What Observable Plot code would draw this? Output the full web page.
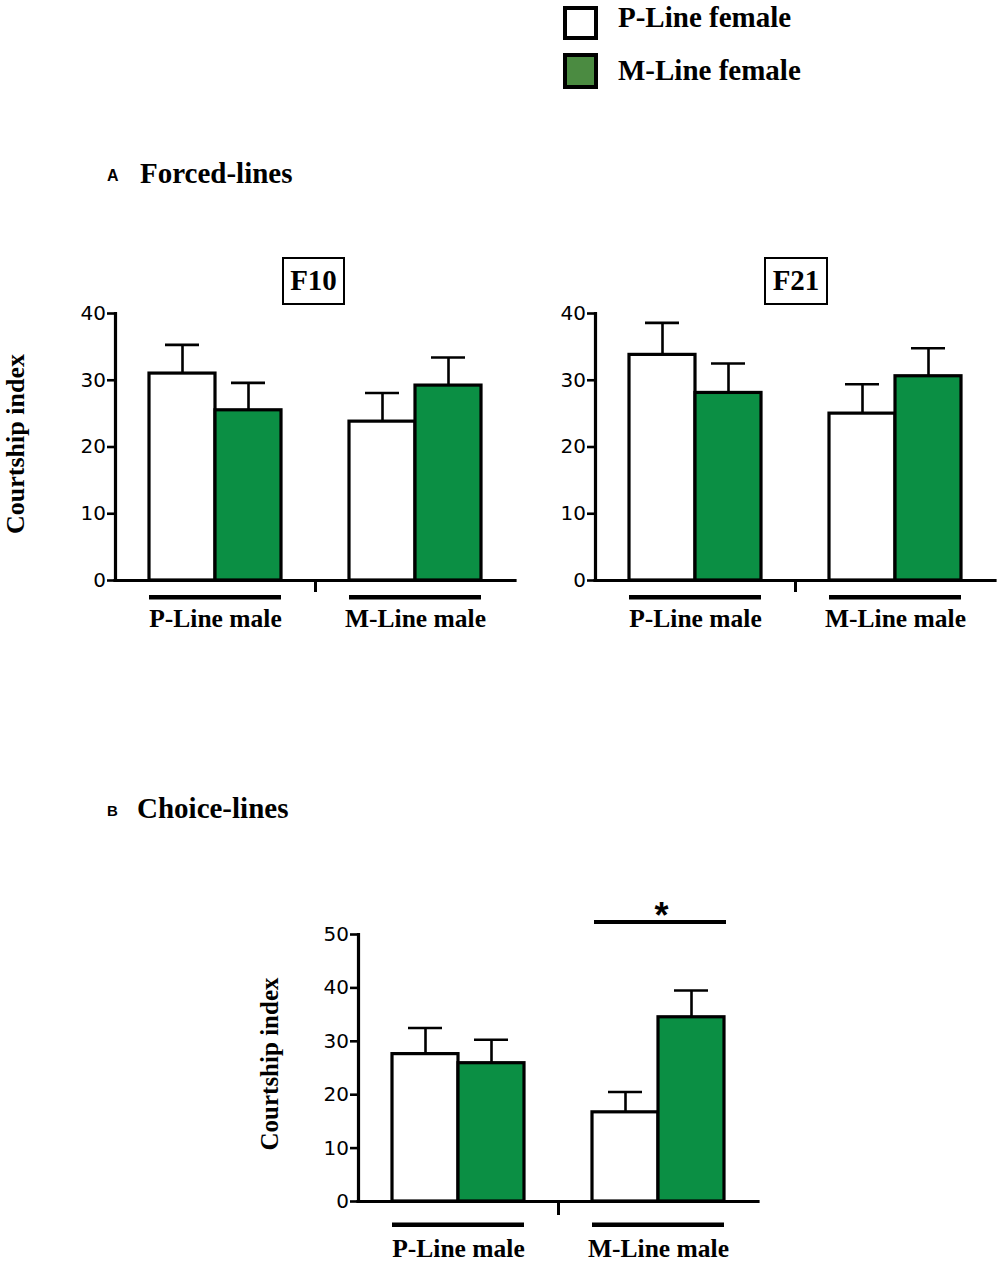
<!DOCTYPE html>
<html>
<head>
<meta charset="utf-8">
<script src="https://cdn.jsdelivr.net/npm/d3@7"></script>
<script src="https://cdn.jsdelivr.net/npm/@observablehq/plot@0.6"></script>
<style>
  body { margin: 0; background: #fff; }
  #root { position: relative; width: 1000px; height: 1262px; overflow: hidden; color: #000; background: #fff; }
  .abs { position: absolute; white-space: nowrap; line-height: 1; }
  .serif { font-family: "Liberation Serif", "Times New Roman", serif; font-weight: bold; }
  .sans { font-family: "Liberation Sans", Arial, sans-serif; font-weight: bold; }
  .plotwrap { position: absolute; }
  .plotwrap svg { overflow: visible; }
</style>
</head>
<body>
<div id="root"></div>
<script>
// ---------- data ----------
const maleLines = ["P-Line male", "M-Line male"];
const femaleLines = ["P-Line female", "M-Line female"];
const femaleColors = ["#ffffff", "#0b8f44"];
const legendColors = ["#ffffff", "#4b8b41"];
// order: P male x P female, P male x M female, M male x P female, M male x M female
const f10Mean = [31.0, 25.5, 23.8, 29.2];
const f10Sem  = [4.3, 4.1, 4.3, 4.2];
const f21Mean = [33.8, 28.1, 25.0, 30.6];
const f21Sem  = [4.8, 4.4, 4.4, 4.2];
const choiceMean = [27.6, 25.9, 16.7, 34.5];
const choiceSem  = [4.9, 4.4, 3.8, 5.0];
const ticksA = [0, 10, 20, 30, 40];
const ticksB = [0, 10, 20, 30, 40, 50];
const sigGroups = ["M-Line male"];
const sigLabel = "*";
const panelTitles = ["F10", "F21"];
const sectionTitles = ["Forced-lines", "Choice-lines"];
const sectionLetters = ["A", "B"];
const yLabel = "Courtship index";

// ---------- helpers ----------
const root = document.getElementById("root");
const ASC = {serif: 0.8375, sans: 0.8465};
function addText(txt, cls, x, baseline, size, center) {
  const d = document.createElement("div");
  d.className = "abs " + cls;
  d.textContent = txt;
  d.style.fontSize = size + "px";
  d.style.top = (baseline - ASC[cls] * size) + "px";
  d.style.left = x + "px";
  if (center) d.style.transform = "translateX(-50%)";
  root.appendChild(d);
  return d;
}
function addBox(x, y, w, h, border, fill) {
  const d = document.createElement("div");
  d.className = "abs";
  Object.assign(d.style, {left: x + "px", top: y + "px", width: w + "px", height: h + "px",
    boxSizing: "border-box", border: border + "px solid #000", background: fill});
  root.appendChild(d);
}
function addRotated(txt, cx, cy, size) {
  const d = document.createElement("div");
  d.className = "abs serif";
  d.textContent = txt;
  d.style.fontSize = size + "px";
  d.style.left = cx + "px";
  d.style.top = cy + "px";
  d.style.transform = "translate(-50%, -50%) rotate(-90deg)";
  root.appendChild(d);
}

function makeRows(mean, sem) {
  const rows = [];
  maleLines.forEach((m, i) => femaleLines.forEach((f, j) => {
    const k = i * femaleLines.length + j;
    rows.push({male: m, female: f, mean: mean[k], upper: mean[k] + sem[k]});
  }));
  return rows;
}

function panel({mean, sem, ticks, height, marginTop, marginBottom, underlineDy, labelPadding, centerTick, sig}) {
  const rows = makeRows(mean, sem);
  const yMax = d3.max(ticks);
  const innerH = height - marginTop - marginBottom;
  const marks = [
    Plot.axisY({ticks, tickSize: 8, tickPadding: 1.5, strokeWidth: 2.6, fontSize: 20,
      fontFamily: "DejaVu Sans, Liberation Sans, sans-serif", label: null, tickFormat: d => String(d)}),
    Plot.axisFx({anchor: "bottom", tickSize: 0, tickPadding: labelPadding, fontSize: 25.5, fontWeight: "bold",
      fontFamily: "Liberation Serif, Times New Roman, serif", label: null}),
    Plot.ruleX(rows, {fx: "male", x: "female", y1: "mean", y2: "upper", strokeWidth: 2.6}),
    Plot.tickY(rows, {fx: "male", x: "female", y: "upper", insetLeft: 16, insetRight: 16, strokeWidth: 2.6}),
    Plot.barY(rows, {fx: "male", x: "female", y: "mean", fill: "female", stroke: "#000", strokeWidth: 3.2}),
    Plot.ruleY([0], {strokeWidth: 3.2, strokeLinecap: "square"}),
    Plot.frame({anchor: "left", facetAnchor: "left", strokeWidth: 3.2, strokeLinecap: "square"}),
    Plot.frame({anchor: "left", facetAnchor: "right", insetTop: innerH, insetBottom: -centerTick, strokeWidth: 3}),
    Plot.tickY(rows, {fx: "male", x: "female", y: 0, dy: underlineDy, strokeWidth: 4.5})
  ];
  if (sig) {
    const sigRows = rows.filter(d => sig.includes(d.male));
    marks.push(Plot.tickY(sigRows, {fx: "male", x: "female", y: () => yMax, dy: -12.5, dx: 2, strokeWidth: 4}));
    marks.push(Plot.text(sig.map(m => ({male: m, label: sigLabel})), {fx: "male", y: () => yMax, text: "label",
      dy: -18, dx: 3, fontSize: 36, fontWeight: "bold", fontFamily: "Liberation Sans, Arial, sans-serif"}));
  }
  return Plot.plot({
    width: 520, height, marginLeft: 115, marginRight: 5, marginTop, marginBottom,
    style: {background: "transparent", overflow: "visible", color: "#000"},
    fx: {domain: maleLines, padding: 0},
    x: {domain: femaleLines, paddingInner: 0, paddingOuter: 0.5, axis: null},
    y: {domain: [0, yMax]},
    color: {domain: femaleLines, range: femaleColors},
    marks
  });
}

function place(svg, left, top) {
  const w = document.createElement("div");
  w.className = "plotwrap";
  w.style.left = left + "px";
  w.style.top = top + "px";
  w.appendChild(svg);
  root.appendChild(w);
}

// ---------- legend ----------
addBox(563, 6, 35, 34, 4.5, legendColors[0]);
addBox(563, 53, 35, 36, 4.5, legendColors[1]);
addText(femaleLines[0], "serif", 618, 27.3, 29);
addText(femaleLines[1], "serif", 618, 80, 29);

// ---------- section titles ----------
addText(sectionLetters[0], "sans", 107, 182, 16);
addText(sectionTitles[0], "serif", 140, 183.3, 29);
addText(sectionLetters[1], "sans", 107, 816, 15);
addText(sectionTitles[1], "serif", 137, 818.3, 29);

// ---------- panel A ----------
const optsA = {ticks: ticksA, height: 400, marginTop: 63, marginBottom: 70, underlineDy: 16.7, labelPadding: 28.6, centerTick: 10};
place(panel({...optsA, mean: f10Mean, sem: f10Sem}), 0, 250);
place(panel({...optsA, mean: f21Mean, sem: f21Sem}), 480, 250);
addBox(282, 257, 63, 48, 2.5, "#fff");
addText(panelTitles[0], "serif", 313.5, 290, 29, true);
addBox(764, 257, 64, 48, 2.5, "#fff");
addText(panelTitles[1], "serif", 796, 290, 29, true);
addRotated(yLabel, 16.2, 444, 26);

// ---------- panel B ----------
place(panel({ticks: ticksB, height: 380, marginTop: 54, marginBottom: 59, underlineDy: 23.3, labelPadding: 37.2,
  centerTick: 12, sig: sigGroups, mean: choiceMean, sem: choiceSem}), 243, 880);
addRotated(yLabel, 268.6, 1064, 25);
</script>
</body>
</html>
